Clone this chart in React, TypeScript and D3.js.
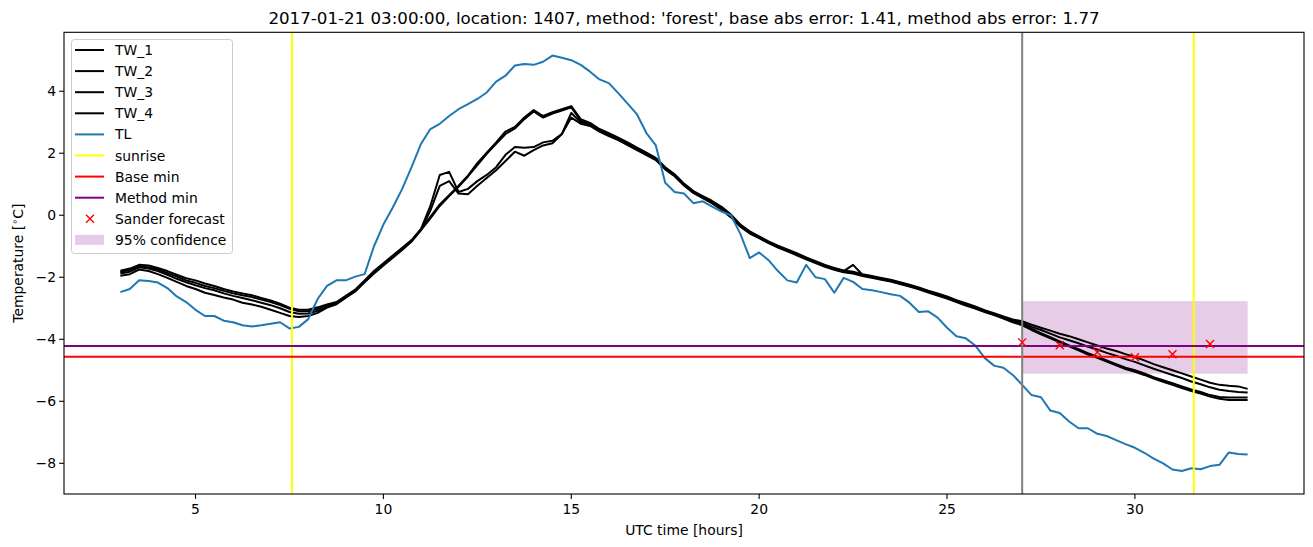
import React from 'react';
import * as d3 from 'd3';

// time grid: 03:00 to 33:00 every 15 minutes
const timeStart = 3;
const timeStep = 0.25;

const tl = [
  -2.48, -2.38, -2.1, -2.12, -2.17, -2.35, -2.62, -2.8, -3.05, -3.25, -3.25, -3.4,
  -3.45, -3.55, -3.59, -3.55, -3.5, -3.45, -3.65, -3.6, -3.35, -2.7, -2.28, -2.1,
  -2.1, -1.98, -1.9, -1.0, -0.3, 0.25, 0.85, 1.55, 2.3, 2.78, 2.95, 3.2,
  3.42, 3.58, 3.75, 3.96, 4.31, 4.5, 4.83, 4.88, 4.85, 4.95, 5.15, 5.08,
  5.0, 4.85, 4.63, 4.38, 4.26, 3.94, 3.6, 3.25, 2.65, 2.25, 1.05, 0.75,
  0.7, 0.39, 0.45, 0.28, 0.12, 0.0, -0.6, -1.38, -1.2, -1.45, -1.8, -2.1,
  -2.17, -1.6, -2.0, -2.06, -2.5, -2.02, -2.15, -2.38, -2.42, -2.48, -2.55, -2.6,
  -2.82, -3.12, -3.1, -3.3, -3.63, -3.9, -3.97, -4.2, -4.6, -4.85, -4.92, -5.15,
  -5.47, -5.8, -5.87, -6.3, -6.38, -6.65, -6.87, -6.87, -7.05, -7.12, -7.25, -7.38,
  -7.5, -7.66, -7.85, -8.0, -8.2, -8.25, -8.16, -8.19, -8.09, -8.05, -7.65, -7.7,
  -7.72,
];

const tw1 = [
  -1.79, -1.72, -1.6, -1.62, -1.7, -1.8, -1.92, -2.03, -2.1, -2.2, -2.28, -2.38,
  -2.46, -2.52, -2.58, -2.67, -2.75, -2.85, -2.98, -3.05, -3.05, -2.97, -2.88, -2.8,
  -2.6, -2.4, -2.1, -1.8, -1.55, -1.3, -1.05, -0.8, -0.45, -0.05, 0.35, 0.65,
  0.95, 1.28, 1.68, 2.02, 2.35, 2.7, 2.85, 3.15, 3.39, 3.2, 3.32, 3.42,
  3.52, 3.1, 2.98, 2.78, 2.65, 2.5, 2.35, 2.18, 2.02, 1.85, 1.55, 1.32,
  1.02, 0.78, 0.62, 0.46, 0.27, 0.02, -0.3, -0.52, -0.68, -0.84, -0.98, -1.1,
  -1.22, -1.36, -1.48, -1.6, -1.7, -1.78, -1.82, -1.9, -1.96, -2.02, -2.08, -2.16,
  -2.24, -2.33, -2.43, -2.52, -2.62, -2.74, -2.84, -2.94, -3.06, -3.16, -3.26, -3.36,
  -3.42, -3.53, -3.63, -3.72, -3.82, -3.9, -4.0, -4.1, -4.2, -4.3, -4.38, -4.48,
  -4.57, -4.68, -4.8, -4.9, -5.0, -5.1, -5.2, -5.3, -5.4, -5.47, -5.5, -5.52,
  -5.6,
];

const tw2 = [
  -1.84, -1.76, -1.65, -1.68, -1.75, -1.86, -1.98, -2.1, -2.18, -2.28, -2.35, -2.44,
  -2.52, -2.58, -2.64, -2.72, -2.8, -2.9, -3.02, -3.1, -3.1, -3.02, -2.92, -2.83,
  -2.62, -2.43, -2.13, -1.83, -1.58, -1.33, -1.08, -0.82, -0.48, -0.1, 0.3, 0.62,
  0.92, 1.25, 1.62, 1.98, 2.3, 2.62, 2.8, 3.1, 3.35, 3.15, 3.28, 3.38,
  3.48, 3.05, 2.93, 2.74, 2.6, 2.46, 2.3, 2.14, 1.98, 1.82, 1.52, 1.3,
  1.0, 0.75, 0.58, 0.42, 0.23, -0.02, -0.33, -0.55, -0.7, -0.87, -1.0, -1.12,
  -1.25, -1.38, -1.5, -1.62, -1.72, -1.8, -1.6, -1.92, -1.98, -2.04, -2.1, -2.18,
  -2.26, -2.35, -2.45, -2.55, -2.65, -2.76, -2.87, -2.97, -3.08, -3.18, -3.28, -3.39,
  -3.47, -3.6, -3.7, -3.82, -3.94, -4.03, -4.13, -4.24, -4.33, -4.44, -4.53, -4.64,
  -4.73, -4.84, -4.95, -5.05, -5.15, -5.25, -5.36, -5.45, -5.55, -5.63, -5.67, -5.7,
  -5.72,
];

const tw3 = [
  -1.88, -1.82, -1.68, -1.72, -1.8, -1.92, -2.05, -2.16, -2.26, -2.35, -2.42, -2.52,
  -2.6, -2.67, -2.74, -2.82, -2.9, -3.0, -3.12, -3.18, -3.17, -3.08, -2.96, -2.85,
  -2.64, -2.44, -2.14, -1.86, -1.6, -1.35, -1.1, -0.83, -0.45, 0.3, 1.3, 1.4,
  0.75, 0.85, 1.1, 1.3, 1.55, 1.95, 2.2, 2.18, 2.2, 2.35, 2.4, 2.62,
  3.3, 3.0, 2.92, 2.72, 2.58, 2.44, 2.28, 2.12, 1.96, 1.8, 1.5, 1.28,
  0.98, 0.73, 0.56, 0.4, 0.2, -0.05, -0.35, -0.57, -0.72, -0.88, -1.02, -1.14,
  -1.27, -1.4, -1.52, -1.64, -1.74, -1.82, -1.86, -1.94, -2.0, -2.06, -2.12, -2.2,
  -2.28, -2.37, -2.47, -2.57, -2.67, -2.78, -2.89, -2.99, -3.1, -3.2, -3.3, -3.42,
  -3.52, -3.66, -3.8, -3.93, -4.07, -4.2, -4.32, -4.45, -4.56, -4.68, -4.8, -4.92,
  -5.0, -5.1, -5.22, -5.32, -5.42, -5.52, -5.62, -5.7, -5.8, -5.86, -5.88, -5.88,
  -5.88,
];

const tw4 = [
  -1.95, -1.9, -1.75, -1.8, -1.9, -2.02, -2.15, -2.28, -2.38, -2.5, -2.57, -2.65,
  -2.72, -2.82, -2.88, -2.95, -3.05, -3.15, -3.25, -3.28, -3.25, -3.15, -2.98, -2.87,
  -2.66, -2.46, -2.16, -1.88, -1.62, -1.37, -1.12, -0.85, -0.48, 0.15, 0.95, 1.1,
  0.7, 0.68, 0.95, 1.2, 1.45, 1.75, 2.05, 1.92, 2.1, 2.25, 2.32, 2.62,
  3.15, 2.95, 2.88, 2.7, 2.55, 2.42, 2.26, 2.1, 1.94, 1.78, 1.48, 1.26,
  0.96, 0.72, 0.55, 0.38, 0.18, -0.07, -0.37, -0.59, -0.74, -0.9, -1.04, -1.16,
  -1.29, -1.42, -1.54, -1.66, -1.76, -1.84, -1.88, -1.96, -2.02, -2.08, -2.14, -2.22,
  -2.3, -2.39, -2.49, -2.59, -2.69, -2.8, -2.91, -3.01, -3.12, -3.22, -3.33, -3.45,
  -3.55, -3.7, -3.84, -3.97, -4.1, -4.23, -4.36, -4.49, -4.6, -4.72, -4.84, -4.96,
  -5.05, -5.15, -5.27, -5.37, -5.47, -5.57, -5.67, -5.75, -5.85, -5.92, -5.96, -5.96,
  -5.96,
];

const sunriseHours = [7.567, 31.567];
const baseMin = -4.56;
const methodMin = -4.22;
const forecastStart = 27;
const sanderHours = [27, 28, 29, 30, 31, 32];
const sanderValues = [-4.1, -4.19, -4.42, -4.58, -4.48, -4.15];
const confStart = 27;
const confEnd = 33;
const confLow = -5.11;
const confHigh = -2.77;

const xTicks = [5, 10, 15, 20, 25, 30];
const yTicks = [-8, -6, -4, -2, 0, 2, 4];
const xDomain = [1.5, 34.5];
const yDomain = [-8.99, 5.9];

const titleText =
  "2017-01-21 03:00:00, location: 1407, method: 'forest', base abs error: 1.41, method abs error: 1.77";

const W = 1313;
const H = 547;
const left = 64;
const right = 1304;
const top = 32.3;
const bottom = 494;
const FONT = "'DejaVu Sans', sans-serif";

const fmt = (v: number) => (v < 0 ? '\u2212' + Math.abs(v) : String(v));

export default function App() {
  const x = d3.scaleLinear().domain(xDomain).range([left, right]);
  const y = d3.scaleLinear().domain(yDomain).range([bottom, top]);
  const hours = tl.map((_, i) => timeStart + i * timeStep);
  const line = d3
    .line<number>()
    .x((_, i) => x(hours[i]))
    .y((d) => y(d));

  const twSeries = [tw1, tw2, tw3, tw4];
  const legendItems = [
    { label: 'TW_1', kind: 'line', color: '#000000' },
    { label: 'TW_2', kind: 'line', color: '#000000' },
    { label: 'TW_3', kind: 'line', color: '#000000' },
    { label: 'TW_4', kind: 'line', color: '#000000' },
    { label: 'TL', kind: 'line', color: '#1f77b4' },
    { label: 'sunrise', kind: 'line', color: '#ffff00' },
    { label: 'Base min', kind: 'line', color: '#ff0000' },
    { label: 'Method min', kind: 'line', color: '#800080' },
    { label: 'Sander forecast', kind: 'marker', color: '#ff0000' },
    { label: '95% confidence', kind: 'patch', color: '#800080' },
  ];
  const lgX = 71.5;
  const lgY = 39.5;
  const rowH = 21.1;

  const xMark = (cx: number, cy: number, r: number, key: string) => (
    <path
      key={key}
      d={`M${cx - r},${cy - r}L${cx + r},${cy + r}M${cx - r},${cy + r}L${cx + r},${cy - r}`}
      stroke="#ff0000"
      strokeWidth={1.4}
      fill="none"
    />
  );

  return (
    <svg
      width={W}
      height={H}
      style={{ position: 'absolute', left: 0, top: 0, background: '#fff' }}
      fontFamily={FONT}
    >
      <rect x={0} y={0} width={W} height={H} fill="#fff" />
      <defs>
        <clipPath id="plotclip">
          <rect x={left} y={top} width={right - left} height={bottom - top} />
        </clipPath>
      </defs>
      <g clipPath="url(#plotclip)">
        <rect
          x={x(confStart)}
          y={y(confHigh)}
          width={x(confEnd) - x(confStart)}
          height={y(confLow) - y(confHigh)}
          fill="#800080"
          fillOpacity={0.2}
        />
        {twSeries.map((s, i) => (
          <path key={'tw' + i} d={line(s) || ''} fill="none" stroke="#000" strokeWidth={2} strokeLinejoin="round" />
        ))}
        <path d={line(tl) || ''} fill="none" stroke="#1f77b4" strokeWidth={2} strokeLinejoin="round" />
        {sunriseHours.map((h, i) => (
          <line key={'sr' + i} x1={x(h)} x2={x(h)} y1={top} y2={bottom} stroke="#ffff00" strokeWidth={2} />
        ))}
        <line x1={left} x2={right} y1={y(baseMin)} y2={y(baseMin)} stroke="#ff0000" strokeWidth={2} />
        <line x1={left} x2={right} y1={y(methodMin)} y2={y(methodMin)} stroke="#800080" strokeWidth={2} />
        <line
          x1={x(forecastStart)}
          x2={x(forecastStart)}
          y1={top}
          y2={bottom}
          stroke="#808080"
          strokeWidth={2}
        />
        {sanderHours.map((h, i) => xMark(x(h), y(sanderValues[i]), 4, 'sx' + i))}
      </g>

      {/* frame */}
      <rect x={left} y={top} width={right - left} height={bottom - top} fill="none" stroke="#000" strokeWidth={1.1} />

      {/* x ticks */}
      {xTicks.map((t) => (
        <g key={'xt' + t}>
          <line x1={x(t)} x2={x(t)} y1={bottom} y2={bottom + 4.9} stroke="#000" strokeWidth={1.1} />
          <text x={x(t)} y={bottom + 19.5} textAnchor="middle" fontSize={13.9} fill="#000">
            {fmt(t)}
          </text>
        </g>
      ))}
      {/* y ticks */}
      {yTicks.map((t) => (
        <g key={'yt' + t}>
          <line x1={left - 4.9} x2={left} y1={y(t)} y2={y(t)} stroke="#000" strokeWidth={1.1} />
          <text x={left - 8} y={y(t) + 5} textAnchor="end" fontSize={13.9} fill="#000">
            {fmt(t)}
          </text>
        </g>
      ))}

      <text x={(left + right) / 2} y={535} textAnchor="middle" fontSize={13.9} fill="#000">
        UTC time [hours]
      </text>
      <text
        transform={`translate(23,${(top + bottom) / 2}) rotate(-90)`}
        textAnchor="middle"
        fontSize={13.9}
        fill="#000"
      >
        Temperature [
        <tspan fontSize={9.7} dy={-5}>
          {'\u2218'}
        </tspan>
        <tspan dy={5}>C]</tspan>
      </text>
      <text x={(left + right) / 2} y={23.5} textAnchor="middle" fontSize={16.67} fill="#000">
        {titleText}
      </text>

      {/* legend */}
      <rect x={lgX} y={lgY} width={161} height={214} rx={3} fill="#fff" fillOpacity={0.8} stroke="#cccccc" strokeWidth={1} />
      {legendItems.map((it, i) => {
        const cy = 50 + i * rowH;
        let handle;
        if (it.kind === 'line') {
          handle = <line x1={75} x2={104} y1={cy} y2={cy} stroke={it.color} strokeWidth={2} />;
        } else if (it.kind === 'marker') {
          handle = xMark(90, cy, 4, 'lgx');
        } else {
          handle = <rect x={75} y={cy - 5} width={29} height={10} fill={it.color} fillOpacity={0.2} />;
        }
        return (
          <g key={'lg' + i}>
            {handle}
            <text x={115} y={cy + 5} fontSize={13.9} fill="#000">
              {it.label}
            </text>
          </g>
        );
      })}
    </svg>
  );
}
